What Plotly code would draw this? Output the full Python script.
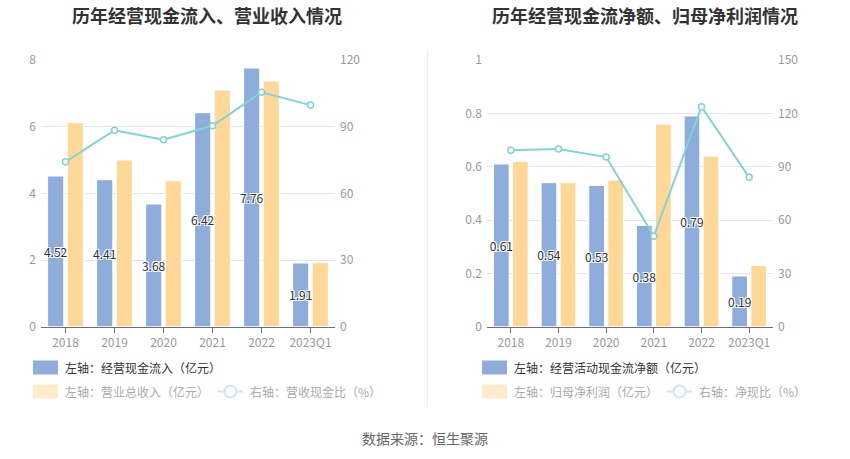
import plotly.graph_objects as go

W, H = 850, 459

categories = ["2018", "2019", "2020", "2021", "2022", "2023Q1"]

# Left chart
cash_inflow = [4.52, 4.41, 3.68, 6.42, 7.76, 1.91]          # 经营现金流入（亿元）
revenue = [6.12, 5.00, 4.38, 7.10, 7.37, 1.92]              # 营业总收入（亿元）
cash_rev_ratio = [74.2, 88.4, 84.1, 90.4, 105.5, 99.7]      # 营收现金比（%）

# Right chart
net_cash_flow = [0.61, 0.54, 0.53, 0.38, 0.79, 0.19]        # 经营活动现金流净额（亿元）
net_profit = [0.62, 0.54, 0.55, 0.76, 0.64, 0.23]           # 归母净利润（亿元）
net_cash_ratio = [99.3, 99.9, 95.4, 50.9, 123.7, 84.0]      # 净现比（%）

BLUE = "#8eaddb"
ORANGE = "#ffd899"
TEAL = "#80d4d6"
FONT = "Noto Sans CJK SC"


def px(x):
    return x / W


def py(y):
    return 1 - y / H


fig = go.Figure()

label_font = dict(color="#333333", size=12, family=FONT,
                  shadow="-1px -1px 0 #fff, 1px -1px 0 #fff, -1px 1px 0 #fff, 1px 1px 0 #fff")

BW = 0.33


def add_chart(xa, ya, ya2, blue_vals, orange_vals, ratio_vals):
    fig.add_trace(go.Bar(x=categories, y=orange_vals, width=BW, offset=0.035,
                         marker=dict(color=ORANGE, line=dict(color="#ffffff", width=1)),
                         xaxis=xa, yaxis=ya, showlegend=False, hoverinfo="x+y"))
    fig.add_trace(go.Bar(x=categories, y=blue_vals, width=BW, offset=-0.365,
                         marker=dict(color=BLUE, line=dict(color="#ffffff", width=1)),
                         text=[f"{v:.2f}" for v in blue_vals], textposition="inside", insidetextanchor="middle",
                         textangle=0, textfont=label_font, xaxis=xa, yaxis=ya, showlegend=False,
                         cliponaxis=False, hoverinfo="x+y"))
    fig.add_trace(go.Scatter(x=categories, y=ratio_vals, mode="lines+markers",
                             line=dict(color=TEAL, width=2),
                             marker=dict(symbol="circle", size=6, color="#ffffff", line=dict(color=TEAL, width=1.5)),
                             xaxis=xa, yaxis=ya2, showlegend=False, cliponaxis=False))


add_chart("x", "y", "y2", cash_inflow, revenue, cash_rev_ratio)
add_chart("x2", "y3", "y4", net_cash_flow, net_profit, net_cash_ratio)

tickfont = dict(color="#999999", size=12, family=FONT)
ydom = [py(326.7), py(60)]

xcommon = dict(type="category", range=[-0.5, 5.5], showline=True, linecolor="#6e7079", linewidth=1,
               ticks="outside", ticklen=5, tickcolor="#6e7079", tickfont=tickfont, showgrid=False,
               zeroline=False, fixedrange=True, automargin=False)
ycommon = dict(showgrid=True, gridcolor="#e0e6f1", gridwidth=1, zeroline=False, showline=False,
               tickfont=tickfont, ticks="", fixedrange=True, automargin=False, ticklabelstandoff=4)
y2common = dict(showgrid=False, zeroline=False, showline=False, tickfont=tickfont, ticks="",
                fixedrange=True, automargin=False, ticklabelstandoff=4, side="right")

fig.update_layout(
    template="none",
    width=W, height=H,
    margin=dict(l=0, r=0, t=0, b=0, pad=0),
    paper_bgcolor="#ffffff", plot_bgcolor="rgba(0,0,0,0)",
    barmode="overlay",
    uniformtext=dict(minsize=12, mode="show"),
    font=dict(family=FONT, color="#333333"),
    xaxis=dict(domain=[px(41), px(335)], anchor="y", **xcommon),
    yaxis=dict(domain=ydom, range=[0, 8], dtick=2, anchor="x", **ycommon),
    yaxis2=dict(domain=ydom, range=[0, 120], dtick=30, overlaying="y", anchor="x", **y2common),
    xaxis2=dict(domain=[px(487), px(773)], anchor="y3", **xcommon),
    yaxis3=dict(domain=ydom, range=[0, 1], dtick=0.2, anchor="x2", **ycommon),
    yaxis4=dict(domain=ydom, range=[0, 150], dtick=30, overlaying="y3", anchor="x2", **y2common),
    showlegend=False,
)

annotations = []
shapes = []

# Titles
annotations.append(dict(text="<b>历年经营现金流入、营业收入情况</b>", x=px(207), y=py(15), xref="paper", yref="paper",
                        xanchor="center", yanchor="middle",
                        showarrow=False, font=dict(size=18, color="#333333", family=FONT)))
annotations.append(dict(text="<b>历年经营现金流净额、归母净利润情况</b>", x=px(645), y=py(15), xref="paper", yref="paper",
                        xanchor="center", yanchor="middle",
                        showarrow=False, font=dict(size=18, color="#333333", family=FONT)))

# Divider
shapes.append(dict(type="line", xref="paper", yref="paper", x0=px(427.5), x1=px(427.5), y0=py(50), y1=py(407),
                   line=dict(color="#eeeeee", width=1)))


def legend_rect(x0, y, color, text, tcolor):
    shapes.append(dict(type="rect", xref="paper", yref="paper", x0=px(x0), x1=px(x0 + 25), y0=py(y + 7), y1=py(y - 7),
                       fillcolor=color, line=dict(width=0), layer="above"))
    annotations.append(dict(text=text, x=px(x0 + 30), y=py(y), xref="paper", yref="paper", xanchor="left",
                            yanchor="middle", showarrow=False, font=dict(size=12, color=tcolor, family=FONT)))


def legend_line(x0, y, text, tcolor):
    shapes.append(dict(type="line", xref="paper", yref="paper", x0=px(x0), x1=px(x0 + 25), y0=py(y), y1=py(y),
                       line=dict(color="#c6ecee", width=2)))
    shapes.append(dict(type="circle", xref="paper", yref="paper", x0=px(x0 + 12.5 - 6), x1=px(x0 + 12.5 + 6),
                       y0=py(y + 6), y1=py(y - 6), fillcolor="#ffffff", line=dict(color="#c6ecee", width=2)))
    annotations.append(dict(text=text, x=px(x0 + 30), y=py(y), xref="paper", yref="paper", xanchor="left",
                            yanchor="middle", showarrow=False, font=dict(size=12, color=tcolor, family=FONT)))


legend_rect(33, 367.5, BLUE, "左轴：经营现金流入（亿元）", "#333333")
legend_rect(33, 391.5, "#feebcc", "左轴：营业总收入（亿元）", "#aaaaaa")
legend_line(218, 391.5, "右轴：营收现金比（%）", "#aaaaaa")

legend_rect(482, 367.5, BLUE, "左轴：经营活动现金流净额（亿元）", "#333333")
legend_rect(482, 391.5, "#feebcc", "左轴：归母净利润（亿元）", "#aaaaaa")
legend_line(667, 391.5, "右轴：净现比（%）", "#aaaaaa")

annotations.append(dict(text="数据来源：恒生聚源", x=px(425), y=py(438), xref="paper", yref="paper",
                        xanchor="center", yanchor="middle",
                        showarrow=False, font=dict(size=14, color="#666666", family=FONT)))

fig.update_layout(annotations=annotations, shapes=shapes)

fig.write_html("out.html", config=dict(displayModeBar=False),
               post_script="document.body.style.margin='0px';document.body.style.padding='0px';")
